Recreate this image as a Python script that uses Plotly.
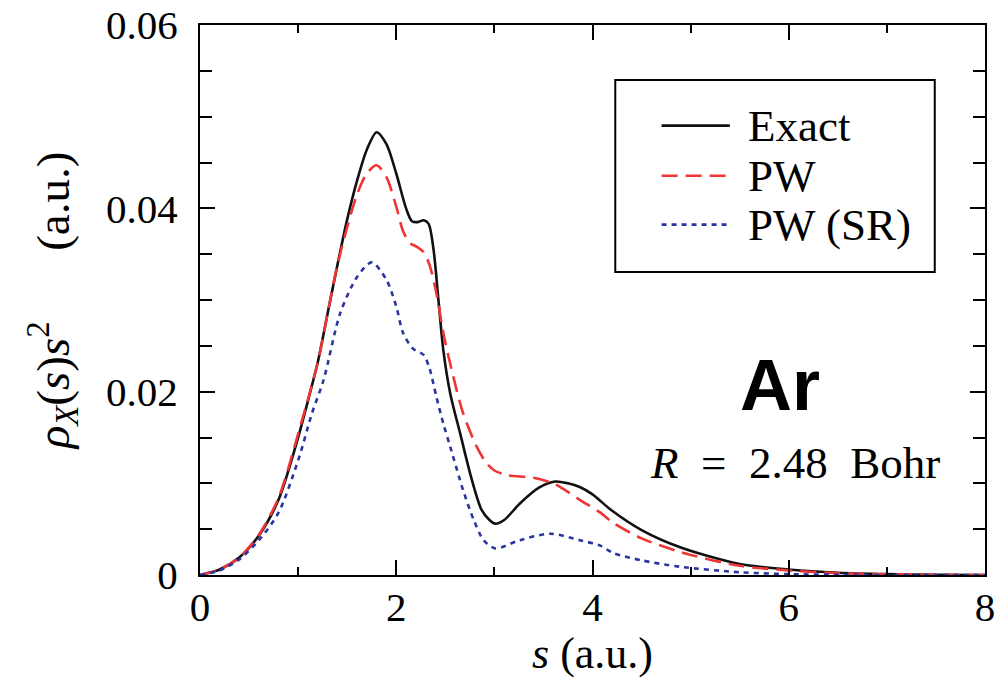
import plotly.graph_objects as go

# Exchange-hole spherical average rho_X(s) s^2 for Ar, R = 2.48 Bohr
s_exact = [0.0, 0.2, 0.4, 0.6, 0.8, 1.0, 1.1, 1.2, 1.3, 1.4, 1.5, 1.6, 1.7, 1.8, 1.9, 2.0,
           2.1, 2.16, 2.22, 2.28, 2.33, 2.38, 2.43, 2.48, 2.55, 2.65, 2.77, 2.87, 2.95,
           3.01, 3.1, 3.26, 3.45, 3.62, 3.75, 3.87, 4.0, 4.2, 4.5, 4.9, 5.5, 6.0, 6.5,
           7.0, 7.5, 8.0]
y_exact = [0.0, 0.0006, 0.0019, 0.0043, 0.0082, 0.0150, 0.0190, 0.0232, 0.0285, 0.0338,
           0.0388, 0.0430, 0.0464, 0.0483, 0.0470, 0.0438, 0.0400, 0.0386, 0.0385, 0.0387,
           0.0383, 0.0355, 0.0300, 0.0245, 0.0198, 0.0155, 0.0104, 0.0071, 0.0060,
           0.0056, 0.0060, 0.0078, 0.0095, 0.0102, 0.0100, 0.0096, 0.0088, 0.0070,
           0.0049, 0.0030, 0.0012, 0.0006, 0.00025, 0.0001, 0.00003, 0.0]

s_pw = [0.0, 0.2, 0.4, 0.6, 0.8, 1.0, 1.2, 1.4, 1.6, 1.7, 1.8, 1.9, 2.0, 2.07, 2.14,
        2.21, 2.28, 2.34, 2.41, 2.48, 2.58, 2.68, 2.82, 2.92, 3.0, 3.13, 3.4, 3.62,
        3.87, 4.08, 4.21, 4.5, 4.9, 5.5, 6.0, 6.5, 7.0, 7.5, 8.0]
y_pw = [0.0, 0.0006, 0.0019, 0.0044, 0.0084, 0.0154, 0.0232, 0.0338, 0.0415, 0.0438,
        0.0447, 0.0434, 0.0402, 0.0375, 0.0362, 0.0358, 0.0352, 0.0338, 0.0307,
        0.0264, 0.0217, 0.0177, 0.0140, 0.0122, 0.0114, 0.0109, 0.0106, 0.0099,
        0.0082, 0.0068, 0.0057, 0.0040, 0.0025, 0.0010, 0.0005, 0.0002, 0.00008,
        0.00002, 0.0]

s_sr = [0.0, 0.2, 0.4, 0.6, 0.8, 1.0, 1.14, 1.26, 1.43, 1.6, 1.75, 1.9, 2.0, 2.07,
        2.17, 2.28, 2.34, 2.41, 2.48, 2.55, 2.68, 2.79, 2.89, 3.01, 3.26, 3.57, 3.87,
        4.08, 4.21, 4.5, 4.89, 5.5, 6.0, 6.5, 7.0, 8.0]
y_sr = [0.0, 0.0005, 0.0017, 0.0038, 0.0068, 0.0125, 0.0176, 0.0213, 0.0286, 0.0325,
        0.0341, 0.0322, 0.0293, 0.0264, 0.0247, 0.0240, 0.0225, 0.0194, 0.0165,
        0.0140, 0.0093, 0.0060, 0.0038, 0.0029, 0.0038, 0.0045, 0.0038, 0.0032,
        0.0024, 0.0016, 0.0009, 0.0003, 0.0001, 0.00003, 0.0, 0.0]

series_names = ["Exact", "PW", "PW (SR)"]
series_colors = ["#111111", "#ef3535", "#2b35a0"]
series_dash = ["solid", "16px,8px", "5px,5px"]

x_tickvals = [0, 2, 4, 6, 8]
x_ticktext = ["0", "2", "4", "6", "8"]
y_tickvals = [0, 0.02, 0.04, 0.06]
y_ticktext = ["0", "0.02", "0.04", "0.06"]

SERIF = "Liberation Serif"

fig = go.Figure()
for xs, ys, name, color, dash in zip([s_exact, s_pw, s_sr], [y_exact, y_pw, y_sr],
                                     series_names, series_colors, series_dash):
    fig.add_trace(go.Scatter(
        x=xs, y=ys, mode="lines", name=name,
        line=dict(color=color, width=2.6, dash=dash, shape="spline", smoothing=0.8),
        showlegend=False,
    ))

# framed legend drawn in paper coordinates
box = dict(x0=0.529, x1=0.936, y0=0.551, y1=0.900)
fig.add_shape(type="rect", xref="paper", yref="paper", **box,
              line=dict(color="black", width=2), fillcolor="white", layer="below")
legend_rows = [0.817, 0.726, 0.637]
for row_y, name, color, dash in zip(legend_rows, series_names, series_colors, series_dash):
    fig.add_shape(type="line", xref="paper", yref="paper",
                  x0=0.588, x1=0.675, y0=row_y, y1=row_y,
                  line=dict(color=color, width=2.6, dash=dash))
    fig.add_annotation(xref="paper", yref="paper", x=0.695, y=row_y, text=name,
                       showarrow=False, xanchor="left", yanchor="middle",
                       font=dict(family=SERIF, size=45, color="black"))

fig.add_annotation(xref="paper", yref="paper", x=0.739, y=0.345, text="<b>Ar</b>",
                   showarrow=False, xanchor="center", yanchor="middle",
                   font=dict(family="Liberation Sans", size=72, color="black"))
fig.add_annotation(xref="paper", yref="paper", x=0.758, y=0.204,
                   text="<i>R</i>&nbsp;&nbsp;=&nbsp;&nbsp;2.48&nbsp;&nbsp;Bohr",
                   showarrow=False, xanchor="center", yanchor="middle",
                   font=dict(family=SERIF, size=45, color="black"))

axis_common = dict(
    showline=True, linecolor="black", linewidth=2, mirror="ticks",
    ticks="inside", tickcolor="black", tickwidth=1.8, ticklen=15,
    showgrid=False, zeroline=False, automargin=False,
    tickfont=dict(family=SERIF, size=41, color="black"),
)

fig.update_xaxes(
    range=[0, 8], tickvals=x_tickvals, ticktext=x_ticktext,
    minor=dict(dtick=1, ticks="inside", ticklen=8, tickcolor="black", tickwidth=1.8),
    title=dict(text="<i>s</i> (a.u.)", font=dict(family=SERIF, size=44, color="black"),
               standoff=0),
    ticklabelstandoff=-5,
    **axis_common,
)
fig.update_yaxes(
    range=[0, 0.06], tickvals=y_tickvals, ticktext=y_ticktext,
    minor=dict(dtick=0.005, ticks="inside", ticklen=12, tickcolor="black", tickwidth=1.8),
    title=dict(text="<i>ρ</i><sub><i>X</i></sub>(<i>s</i>)<i>s</i><sup>2</sup>      (a.u.)",
               font=dict(family=SERIF, size=47, color="black"), standoff=22),
    ticklabelstandoff=12,
    **axis_common,
)

fig.update_layout(
    width=996, height=678,
    margin=dict(l=200, r=11, t=25, b=103),
    plot_bgcolor="white", paper_bgcolor="white",
)

fig.write_html("out.html")
